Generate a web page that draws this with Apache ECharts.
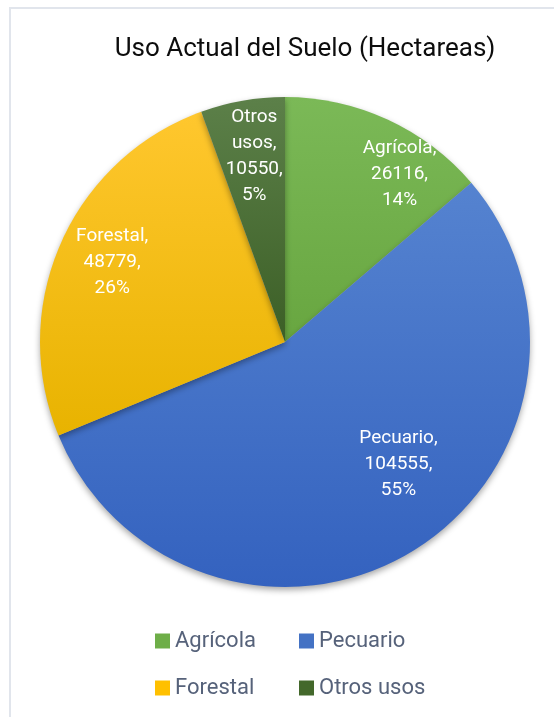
<!DOCTYPE html>
<html>
<head>
<meta charset="utf-8">
<script src="https://cdn.jsdelivr.net/npm/echarts@6/dist/echarts.min.js"></script>
<style>
html,body{margin:0;padding:0;background:#fff;}
#main{width:554px;height:717px;}
</style>
</head>
<body>
<div id="main"></div>
<script>
const categories = ['Agrícola', 'Pecuario', 'Forestal', 'Otros usos'];
const values = [26116, 104555, 48779, 10550];
const pctLabels = ['14%', '55%', '26%', '5%'];
const title = 'Uso Actual del Suelo (Hectareas)';

const FONT = "'Liberation Sans Narrow', 'Arial Narrow', 'Roboto', sans-serif";
const gradients = [
  ['#7bb957', '#68a640'],
  ['#5583d0', '#3462bf'],
  ['#ffc72e', '#e8b300'],
  ['#5c8049', '#3c5f26']
];
const legendIconColors = ['#6eae48', '#4472c4', '#ffc000', '#43682b'];
// label offsets from the default inside position (style)
const labelShift = [[62, -54], [48, 15], [-58, -29], [-9, -62]];

const chart = echarts.init(document.getElementById('main'), null, {renderer: 'canvas'});

const data = categories.map((c, i) => ({
  name: c,
  value: values[i],
  itemStyle: {
    color: new echarts.graphic.LinearGradient(0, 0, 0, 1, [
      {offset: 0, color: gradients[i][0]},
      {offset: 1, color: gradients[i][1]}
    ])
  }
}));

chart.setOption({
  animation: false,
  title: {
    text: title,
    left: 300, top: 31, textAlign: 'center',
    textStyle: {fontFamily: FONT, fontSize: 26, fontWeight: 'normal', color: '#0d0d0d'}
  },
  graphic: [{
    type: 'polyline',
    shape: {points: [[10, 717], [10, 8], [554, 8]]},
    style: {stroke: '#e1e5ec', lineWidth: 2, fill: null}
  }],
  legend: [
    {
      orient: 'vertical', left: 150, top: 625, itemGap: 25,
      itemWidth: 15, itemHeight: 15, icon: 'rect',
      data: [
        {name: 'Agrícola', itemStyle: {color: legendIconColors[0]}},
        {name: 'Forestal', itemStyle: {color: legendIconColors[2]}}
      ],
      textStyle: {fontFamily: FONT, fontSize: 22, color: '#56627a'}
    },
    {
      orient: 'vertical', left: 294, top: 625, itemGap: 25,
      itemWidth: 15, itemHeight: 15, icon: 'rect',
      data: [
        {name: 'Pecuario', itemStyle: {color: legendIconColors[1]}},
        {name: 'Otros usos', itemStyle: {color: legendIconColors[3]}}
      ],
      textStyle: {fontFamily: FONT, fontSize: 22, color: '#56627a'}
    }
  ],
  series: [{
    type: 'pie',
    center: [285, 342],
    radius: 245,
    startAngle: 90,
    clockwise: true,
    data: data,
    itemStyle: {
      borderWidth: 0,
      shadowBlur: 6, shadowColor: 'rgba(0,0,0,0.35)', shadowOffsetY: 3
    },
    label: {
      show: true,
      position: 'inside',
      color: '#ffffff',
      fontFamily: FONT,
      fontSize: 19,
      lineHeight: 26,
      align: 'center',
      formatter: p => {
        const nm = p.name === 'Otros usos' ? 'Otros\nusos' : p.name;
        return nm + ',\n' + p.value + ',\n' + pctLabels[p.dataIndex];
      }
    },
    labelLine: {show: false},
    emphasis: {disabled: true},
    labelLayout: function (params) {
      const s = labelShift[params.dataIndex];
      return {dx: s[0], dy: s[1]};
    }
  }]
});
</script>
</body>
</html>
